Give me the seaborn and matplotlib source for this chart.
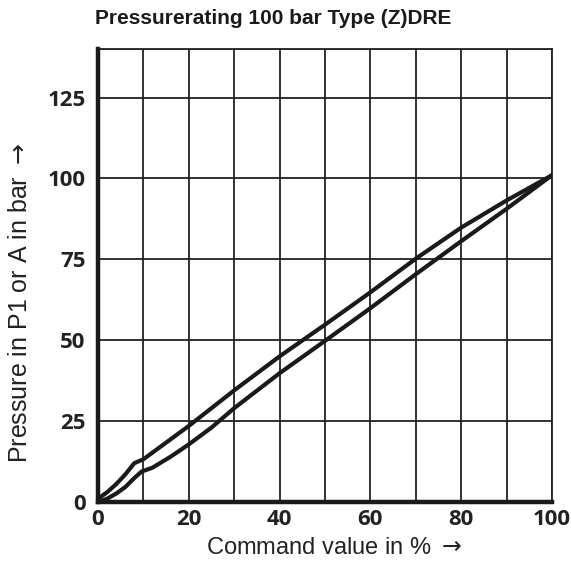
import matplotlib
matplotlib.use("Agg")
import matplotlib.pyplot as plt
import seaborn as sns
import pandas as pd

# curve readings (command value %, pressure bar)
upper_x = [0, 2, 4, 6, 8, 10, 20, 30, 40, 50, 60, 70, 80, 90, 100]
upper_y = [1, 3, 5.5, 8.5, 12, 13.2, 23.5, 34.5, 45, 54.8, 64.8, 75.2, 84.8, 93.2, 101]
lower_x = [0, 2, 4, 6, 8, 9.6, 12, 16, 20, 25, 30, 40, 50, 60, 70, 80, 90, 100]
lower_y = [0, 1, 2.6, 4.6, 7.4, 9.4, 10.6, 14, 17.8, 23, 29, 39.8, 49.8, 59.9, 70.4, 80.6, 90.6, 101]

x_ticks = [0, 20, 40, 60, 80, 100]
y_ticks = [0, 25, 50, 75, 100, 125]

title = "Pressurerating 100 bar Type (Z)DRE"
x_label = "Command value in % $\\rightarrow$"
y_label = "Pressure in P1 or A in bar $\\rightarrow$"

sns.set_theme(style="white")
plt.rcParams['font.family'] = ['Liberation Sans', 'DejaVu Sans']
plt.rcParams['mathtext.fontset'] = 'dejavusans'

df = pd.concat([
    pd.DataFrame({'x': upper_x, 'y': upper_y, 'curve': 'upper'}),
    pd.DataFrame({'x': lower_x, 'y': lower_y, 'curve': 'lower'}),
])

fig = plt.figure(figsize=(5.71, 5.72), dpi=100)
ax = fig.add_axes([0.1716, 0.1224, 0.7951, 0.7919])

# grid first so curves sit on top
for gx in range(10, 101, 10):
    ax.axvline(gx, color='#222222', lw=1.3, zorder=1)
for gy in [25, 50, 75, 100, 125, 140]:
    ax.axhline(gy, color='#222222', lw=1.3, zorder=1)

sns.lineplot(data=df, x='x', y='y', units='curve', estimator=None, sort=False,
             color='#1a1a1a', lw=3.0, ax=ax, zorder=3)

ax.set_xlim(0, 100)
ax.set_ylim(0, 140)
ax.set_xticks(x_ticks)
ax.set_yticks(y_ticks)
tick_font = ['Open Sans', 'DejaVu Sans']
ax.set_xticklabels([str(v) for v in x_ticks], family=tick_font, fontweight='bold', fontsize=16, color='#222222')
ax.set_yticklabels([str(v) for v in y_ticks], family=tick_font, fontweight='bold', fontsize=16, color='#222222')
ax.tick_params(axis='x', length=0, pad=5)
ax.tick_params(axis='y', length=0, pad=9)

for side in ['top', 'right']:
    ax.spines[side].set_linewidth(1.3)
    ax.spines[side].set_color('#222222')
for side in ['left', 'bottom']:
    ax.spines[side].set_linewidth(3.2)
    ax.spines[side].set_color('#1a1a1a')
    ax.spines[side].set_zorder(4)

ax.set_xlabel(x_label, fontsize=17, color='#222222')
ax.set_ylabel(y_label, fontsize=18, color='#222222')
ax.xaxis.set_label_coords(0.52, -0.078)
ax.yaxis.set_label_coords(-0.145, 0.44)

fig.text(273 / 571, 1 - 18 / 572, title, ha='center', va='center',
         fontsize=15, fontweight='bold', color='#1a1a1a')

fig.savefig('out.png', dpi=100)
